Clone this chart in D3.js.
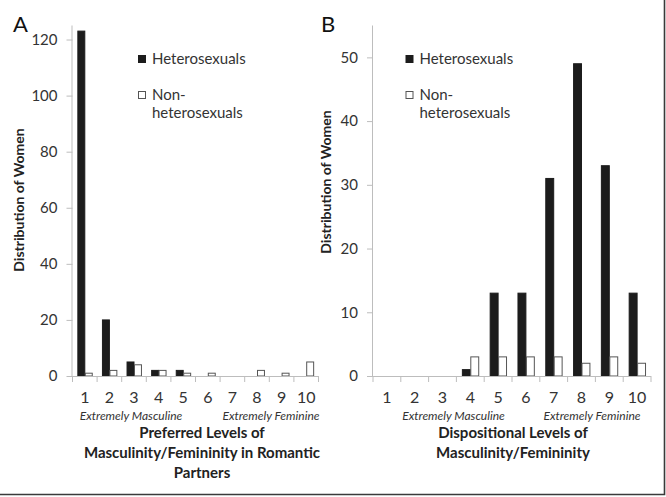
<!DOCTYPE html>
<html><head><meta charset="utf-8">
<script src="https://cdn.jsdelivr.net/npm/d3@7"></script>
<style>
body{margin:0;background:#fff;}
svg{display:block;font-family:Lato, "Open Sans", sans-serif;}
</style></head>
<body>
<svg id="chart" width="666" height="497"></svg>
<script>
const categories = ["1","2","3","4","5","6","7","8","9","10"];
const seriesNames = ["Heterosexuals","Non-heterosexuals"];
const heteroA = [123,20,5,2,2,0,0,0,0,0];
const nonHeteroA = [1,2,4,2,1,1,0,2,1,5];
const heteroB = [0,0,0,1,13,13,31,49,33,13];
const nonHeteroB = [0,0,0,3,3,3,3,2,3,2];
const yTicksA = [0,20,40,60,80,100,120];
const yTicksB = [0,10,20,30,40,50];
const xTitleA = ["Preferred Levels of","Masculinity/Femininity in Romantic","Partners"];
const xTitleB = ["Dispositional Levels of","Masculinity/Femininity"];

const svg = d3.select("#chart");
const axisColor = "#bdbdbd";
const textColor = "#333";

function panel(cfg){
  const g = svg.append("g");
  const x = d3.scaleBand().domain(categories).range([cfg.x0, cfg.x1]).padding(0);
  const y = d3.scaleLinear().domain([0, cfg.ymax]).range([cfg.y0, cfg.yTop]);
  const xs = d3.scaleBand().domain(seriesNames).range([0, x.bandwidth()]).paddingInner(0).paddingOuter(0.65);
  const data = categories.map((c,i)=>({c, vals:[{s:seriesNames[0], v:cfg.h[i]},{s:seriesNames[1], v:cfg.n[i]}]}));

  // y axis
  const ya = g.append("g").attr("transform",`translate(${cfg.x0},0)`)
    .call(d3.axisLeft(y).tickValues(cfg.yticks).tickSize(6).tickPadding(9));
  ya.select(".domain").attr("stroke",axisColor).attr("d",`M-0.5,${cfg.y0}V${cfg.yTop}`);
  ya.selectAll(".tick line").attr("stroke",axisColor);
  ya.selectAll(".tick text").attr("fill",textColor).style("font-size","15px").style("font-family","Lato, 'Open Sans', sans-serif");

  // bars
  const cg = g.selectAll(".cat").data(data).join("g").attr("transform",d=>`translate(${x(d.c)},0)`);
  cg.selectAll("rect").data(d=>d.vals.filter(v=>v.v>0)).join("rect")
    .attr("x",d=>xs(d.s)+0.5).attr("width",xs.bandwidth()-0.5)
    .attr("y",d=>y(d.v)).attr("height",d=>cfg.y0-y(d.v))
    .attr("fill",d=>d.s===seriesNames[0]?"#1c1c1c":"#fff")
    .attr("stroke",d=>d.s===seriesNames[0]?"#1c1c1c":"#555").attr("stroke-width",1);

  // x axis line + boundary ticks
  g.append("line").attr("x1",cfg.x0).attr("x2",cfg.x1).attr("y1",cfg.y0+0.5).attr("y2",cfg.y0+0.5).attr("stroke",axisColor);
  const bounds = categories.map(c=>x(c)).concat([cfg.x1]);
  g.selectAll(".bt").data(bounds).join("line")
    .attr("x1",d=>d).attr("x2",d=>d).attr("y1",cfg.y0).attr("y2",cfg.y0+6).attr("stroke",axisColor);
  g.selectAll(".xl").data(categories).join("text")
    .attr("x",d=>x(d)+x.bandwidth()/2).attr("y",cfg.y0+27)
    .attr("text-anchor","middle").attr("fill",textColor).style("font-size","16px").text(d=>d);

  // extremes
  g.append("text").attr("x",cfg.mascX).attr("y",420).attr("text-anchor","middle").attr("fill",textColor)
    .style("font-size","12px").style("font-style","italic").text("Extremely Masculine");
  g.append("text").attr("x",cfg.femX).attr("y",420).attr("text-anchor","middle").attr("fill",textColor)
    .style("font-size","12px").style("font-style","italic").text("Extremely Feminine");

  // x title
  g.selectAll(".xt").data(cfg.xtitle).join("text")
    .attr("x",cfg.titleX).attr("y",(d,i)=>438+i*20).attr("text-anchor","middle")
    .attr("fill","#222").style("font-size","15px").style("font-weight","bold").text(d=>d);

  // y title
  g.append("text").attr("transform",`translate(${cfg.ytX},${cfg.ytY}) rotate(-90)`)
    .attr("text-anchor","middle").attr("dy","0.35em").attr("fill","#222")
    .style("font-size","14px").style("font-weight","bold").text("Distribution of Women");

  // panel letter
  g.append("text").attr("x",cfg.letterX).attr("y",32).attr("fill","#111").style("font-size","22px").text(cfg.letter);

  // legend
  const lg = g.append("g");
  lg.append("rect").attr("x",cfg.legX+0.5).attr("y",55.5).attr("width",7).attr("height",7).attr("fill","#1c1c1c").attr("stroke","#1c1c1c");
  lg.append("text").attr("x",cfg.legX+14).attr("y",59).attr("dy","0.35em").attr("fill",textColor).style("font-size","15px").text(seriesNames[0]);
  lg.append("rect").attr("x",cfg.legX+0.5).attr("y",91.5).attr("width",7).attr("height",7).attr("fill","#fff").attr("stroke","#555");
  lg.append("text").attr("x",cfg.legX+14).attr("y",95).attr("dy","0.35em").attr("fill",textColor).style("font-size","15px").text("Non-");
  lg.append("text").attr("x",cfg.legX+14).attr("y",113).attr("dy","0.35em").attr("fill",textColor).style("font-size","15px").text("heterosexuals");
}

panel({x0:72.5,x1:318.5,y0:376,yTop:25.5,ymax:125,yticks:yTicksA,h:heteroA,n:nonHeteroA,
  mascX:131,femX:271,xtitle:xTitleA,titleX:202,ytX:19,ytY:200,letter:"A",letterX:13,legX:138});
panel({x0:373,x1:651,y0:376,yTop:25.5,ymax:55,yticks:yTicksB,h:heteroB,n:nonHeteroB,
  mascX:453.5,femX:592,xtitle:xTitleB,titleX:513,ytX:326,ytY:182,letter:"B",letterX:321,legX:405.5});

// figure frame (right and bottom edges)
svg.append("path").attr("d","M0,494.5H664.5V0").attr("fill","none").attr("stroke","#3a3a3a").attr("stroke-width",1.6);
</script>
</body></html>
